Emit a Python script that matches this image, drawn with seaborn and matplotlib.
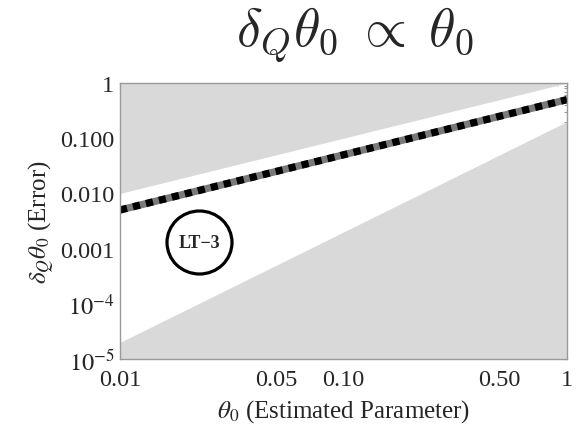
import numpy as np
import pandas as pd
import matplotlib
matplotlib.use("Agg")
import matplotlib.pyplot as plt
import seaborn as sns
from matplotlib.patches import Ellipse
from matplotlib.ticker import FixedLocator, FixedFormatter, NullFormatter

# data (straight lines on log-log axes)
theta = [0.01, 1.0]
upper_bound = [0.01, 1.0]       # top of white band, delta ~ theta
lt3_error = [0.005, 0.5]        # dashed curve
lower_bound = [2e-5, 0.2]       # bottom of white band, delta ~ theta^2
y_top = [1.0, 1.0]
y_bottom = [1e-5, 1e-5]

x_ticks = [0.01, 0.05, 0.10, 0.50, 1.0]
x_ticklabels = ["0.01", "0.05", "0.10", "0.50", "1"]
y_ticks = [1e-5, 1e-4, 1e-3, 1e-2, 1e-1, 1.0]
y_ticklabels = ["$10^{-5}$", "$10^{-4}$", "0.001", "0.010", "0.100", "1"]

sns.set_style("white")
plt.rcParams["font.family"] = ["Liberation Serif", "DejaVu Serif"]
plt.rcParams["mathtext.fontset"] = "stix"

df = pd.DataFrame({"theta": theta, "err": lt3_error})

fig = plt.figure(figsize=(5.81, 4.31), dpi=100)
ax = fig.add_axes([120 / 581, 1 - 360 / 431, 447 / 581, 276 / 431])

grey = "#d9d9d9"
ax.fill_between(theta, upper_bound, y_top, color=grey, lw=0)
ax.fill_between(theta, y_bottom, lower_bound, color=grey, lw=0)

# thick grey line with black square dashes on top
sns.lineplot(data=df, x="theta", y="err", ax=ax, color="#7a7a7a", lw=5.2,
             solid_capstyle="butt")
sns.lineplot(data=df, x="theta", y="err", ax=ax, color="black", lw=5.2,
             dashes=False, linestyle=(0, (1.0, 0.85)), dash_capstyle="butt")

ax.set_xscale("log")
ax.set_yscale("log")
ax.set_xlim(0.01, 1.0)
ax.set_ylim(1e-5, 1.0)

ax.xaxis.set_major_locator(FixedLocator(x_ticks))
ax.xaxis.set_major_formatter(FixedFormatter(x_ticklabels))
x_minor = [v * 10.0 ** e for e in (-2, -1) for v in range(1, 10)] + [1.0]
ax.xaxis.set_minor_locator(FixedLocator(x_minor))
ax.xaxis.set_minor_formatter(NullFormatter())
ax.yaxis.set_major_locator(FixedLocator(y_ticks))
ax.yaxis.set_major_formatter(FixedFormatter(y_ticklabels))
y_minor = [v * 10.0 ** e for e in range(-5, 0) for v in range(2, 10)]
ax.yaxis.set_minor_locator(FixedLocator(y_minor))
ax.yaxis.set_minor_formatter(NullFormatter())

frame = "#9a9a9a"
for s in ax.spines.values():
    s.set_color(frame)
    s.set_linewidth(1.0)
ax.tick_params(which="both", direction="in", top=True, right=True,
               color=frame, width=0.8, labelsize=17.5)
ax.tick_params(axis="x", which="major", pad=7)
ax.tick_params(axis="y", which="major", pad=4)
ax.tick_params(which="major", length=4.5)
ax.tick_params(which="minor", length=2.5)

ax.set_xlabel(r"$\theta_0$ (Estimated Parameter)", fontsize=18, labelpad=5)
ax.set_ylabel(r"$\delta_Q\theta_0$ (Error)", fontsize=18, labelpad=2)

# LT-3 marker circle
ax.add_patch(Ellipse((79.5 / 447, 1 - 159.5 / 276), 65 / 447, 63 / 276,
                     transform=ax.transAxes, fill=False, ec="black", lw=2.3))
ax.text(79.5 / 447, 1 - 159.5 / 276, "LT\u22123", transform=ax.transAxes,
        ha="center", va="center", fontsize=13, fontweight="bold")

fig.text(355 / 581, 1 - 35 / 431, r"$\delta_Q\theta_0\;\propto\;\theta_0$",
         ha="center", va="center", fontsize=39, math_fontfamily="cm")

fig.savefig("out.png", dpi=100)
